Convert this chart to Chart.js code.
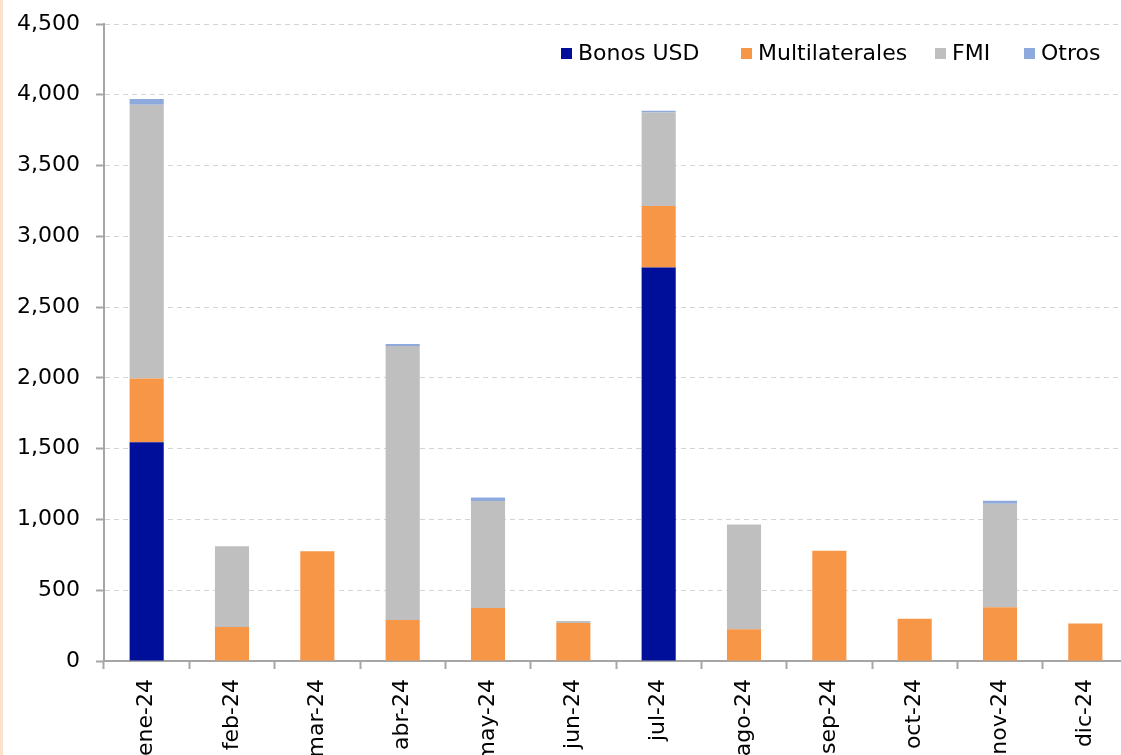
<!DOCTYPE html>
<html lang="es">
<head>
<meta charset="utf-8">
<title>Desembolsos 2024</title>
<script src="https://cdn.jsdelivr.net/npm/chart.js@4/dist/chart.umd.min.js"></script>
<style>
  html, body { margin: 0; padding: 0; background: #ffffff; overflow: hidden; }
  #wrap { position: relative; width: 1121px; height: 755px; overflow: hidden; }
  #edge { position: absolute; left: 0; top: 0; width: 3px; height: 755px; background: #fbe2cd; z-index: 2; }
  canvas { position: absolute; left: 0; top: 0; }
</style>
</head>
<body>
<div id="wrap">
  <div id="edge"></div>
  <canvas id="chart" width="1128" height="755"></canvas>
</div>
<script>
// Meses del año
const categories = ['ene-24', 'feb-24', 'mar-24', 'abr-24', 'may-24', 'jun-24',
                    'jul-24', 'ago-24', 'sep-24', 'oct-24', 'nov-24', 'dic-24'];

// Montos por fuente (millones USD)
const bonosUSD       = [1545, 0, 0, 0, 0, 0, 2780, 0, 0, 0, 0, 0];
const multilaterales = [450, 240, 775, 290, 375, 268, 435, 225, 778, 298, 380, 265];
const fmi            = [1935, 570, 0, 1935, 755, 15, 660, 740, 0, 0, 730, 0];
const otros          = [40, 0, 0, 15, 25, 0, 12, 0, 0, 0, 22, 0];

// Eje Y
const yTicks = [0, 500, 1000, 1500, 2000, 2500, 3000, 3500, 4000, 4500];

const FONT = '"DejaVu Sans", Verdana, sans-serif';

// Leyenda dibujada dentro del área del gráfico, arriba a la derecha
const legendInside = {
  id: 'legendInside',
  afterDraw(chart) {
    const ctx = chart.ctx;
    const slots = [561, 741, 935, 1024];
    const y = 54;
    ctx.save();
    ctx.font = '22px ' + FONT;
    ctx.textBaseline = 'middle';
    ctx.textAlign = 'left';
    chart.data.datasets.forEach((ds, i) => {
      const x = slots[i];
      ctx.fillStyle = ds.backgroundColor;
      ctx.fillRect(x, y - 6, 11, 11);
      ctx.fillStyle = '#000000';
      ctx.fillText(ds.label, x + 17, y);
    });
    ctx.restore();
  }
};

new Chart(document.getElementById('chart'), {
  type: 'bar',
  data: {
    labels: categories,
    datasets: [
      { label: 'Bonos USD', data: bonosUSD, backgroundColor: '#000f99' },
      { label: 'Multilaterales', data: multilaterales, backgroundColor: '#f79646' },
      { label: 'FMI', data: fmi, backgroundColor: '#bfbfbf' },
      { label: 'Otros', data: otros, backgroundColor: '#8eaadc' }
    ]
  },
  options: {
    responsive: false,
    animation: false,
    devicePixelRatio: 1,
    layout: { padding: { top: 24, left: 0, right: 0, bottom: 0 } },
    datasets: {
      bar: { categoryPercentage: 1, barPercentage: 0.4, borderWidth: 0 }
    },
    plugins: {
      legend: { display: false },
      tooltip: { enabled: false }
    },
    scales: {
      x: {
        stacked: true,
        afterFit(scale) { scale.height = 94; },
        grid: {
          drawOnChartArea: false,
          drawTicks: true,
          tickLength: 8,
          tickColor: '#a6a6a6',
          tickWidth: 2
        },
        border: { display: true, color: '#a6a6a6', width: 2 },
        ticks: {
          minRotation: 90,
          maxRotation: 90,
          autoSkip: false,
          padding: 10,
          color: '#000000',
          font: { family: FONT, size: 22 }
        }
      },
      y: {
        stacked: true,
        min: yTicks[0],
        max: yTicks[yTicks.length - 1],
        afterFit(scale) {
          scale.width = 104;
          scale.paddingTop = 0;
          scale.paddingBottom = 0;
        },
        afterBuildTicks(scale) { scale.ticks = yTicks.map(v => ({ value: v })); },
        grid: {
          color: '#d4d4d4',
          lineWidth: 1,
          tickLength: 8,
          tickColor: '#a6a6a6',
          tickWidth: 2,
          tickBorderDash: []
        },
        border: { display: true, color: '#a6a6a6', width: 2, dash: [5, 4] },
        ticks: {
          padding: 16,
          color: '#000000',
          font: { family: FONT, size: 22 },
          callback: (v) => Number(v).toLocaleString('en-US')
        }
      }
    }
  },
  plugins: [legendInside]
});
</script>
</body>
</html>
